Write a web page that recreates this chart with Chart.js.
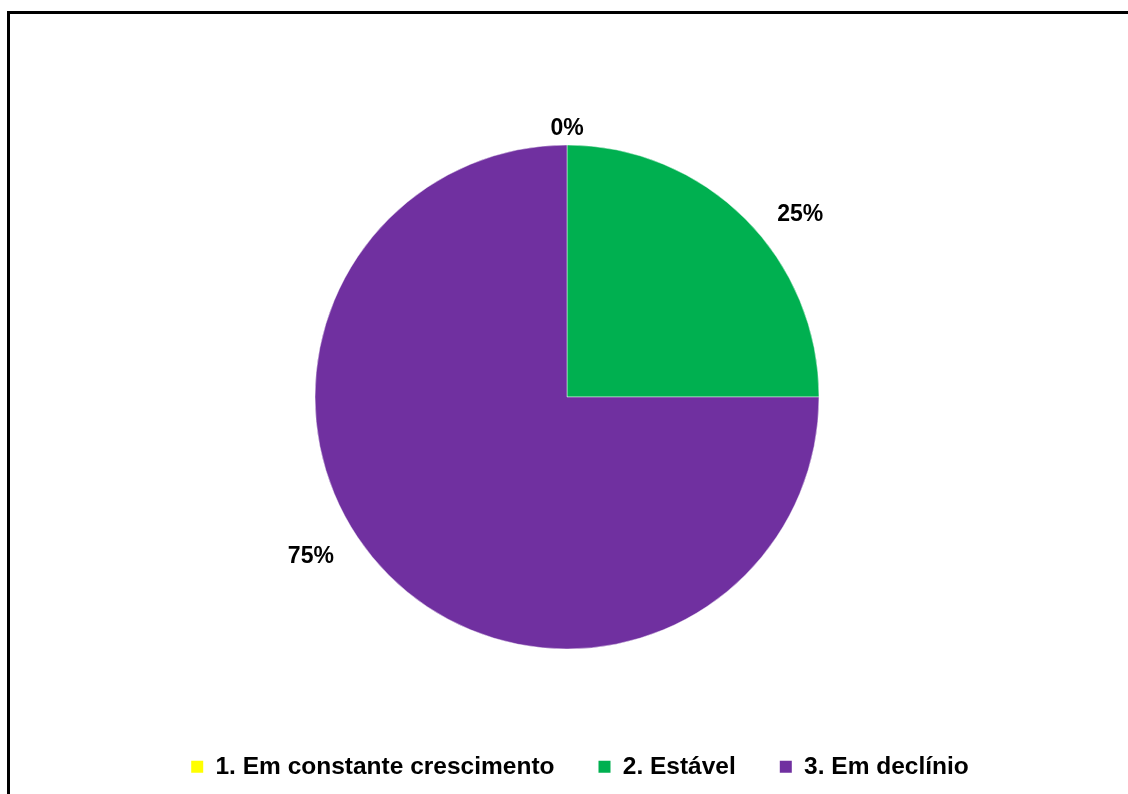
<!DOCTYPE html>
<html>
<head>
<meta charset="utf-8">
<script src="https://cdn.jsdelivr.net/npm/chart.js@4/dist/chart.umd.min.js"></script>
<style>
  html, body { margin: 0; padding: 0; background: #fff; }
  .wrap { position: relative; width: 1128px; height: 794px; overflow: hidden; }
  .frame {
    position: absolute; left: 7px; top: 11px;
    width: 1200px; height: 900px;
    border: 3px solid #000;
  }
  #chart { position: absolute; left: 0; top: 0; }
</style>
</head>
<body>
<div class="wrap">
  <div class="frame"></div>
  <canvas id="chart" width="1128" height="794"></canvas>
</div>
<script>
const CATEGORIES = ["1. Em constante crescimento", "2. Estável", "3. Em declínio"];
const SHARES = [0, 25, 75];
const COLORS = ["#FFFF00", "#00B050", "#7030A0"];

const FONT = '"Liberation Sans", Arial, Helvetica, sans-serif';

// percentage labels outside the pie, placed along each slice's mid angle
const outsideLabels = {
  id: "outsideLabels",
  afterDatasetsDraw(chart, args, opts) {
    const { ctx } = chart;
    const meta = chart.getDatasetMeta(0);
    ctx.save();
    ctx.font = `bold ${opts.size}px ${FONT}`;
    ctx.fillStyle = "#000";
    ctx.textAlign = "center";
    ctx.textBaseline = "middle";
    meta.data.forEach((arc, i) => {
      const nudge = opts.nudge[i];
      const mid = (arc.startAngle + arc.endAngle) / 2 + (nudge.angle * Math.PI) / 180;
      const r = arc.outerRadius + nudge.dist;
      const x = arc.x + Math.cos(mid) * r;
      const y = arc.y + Math.sin(mid) * r;
      ctx.fillText(`${SHARES[i]}%`, x, y);
    });
    ctx.restore();
  },
};

// slide the legend row sideways without moving the pie
const legendShift = {
  id: "legendShift",
  afterLayout(chart, args, opts) {
    chart.legend.left += opts.dx;
    chart.legend.right += opts.dx;
  },
};

new Chart(document.getElementById("chart"), {
  type: "pie",
  data: {
    labels: CATEGORIES,
    datasets: [
      {
        data: SHARES,
        backgroundColor: COLORS,
        borderColor: "rgba(255,255,255,0.45)",
        borderWidth: 1,
      },
    ],
  },
  plugins: [outsideLabels, legendShift],
  options: {
    responsive: false,
    animation: false,
    radius: 252,
    layout: {
      padding: { top: 83.5, bottom: 5, left: 6, right: 0 },
    },
    plugins: {
      tooltip: { enabled: false },
      legend: {
        position: "bottom",
        labels: {
          boxWidth: 12,
          boxHeight: 12,
          padding: 44,
          color: "#000",
          font: { family: FONT, size: 24.5, weight: "bold" },
          // solid swatches, without the slice outline
          generateLabels(chart) {
            return Chart.overrides.pie.plugins.legend.labels
              .generateLabels(chart)
              .map((item) => ({ ...item, lineWidth: 0, strokeStyle: item.fillStyle }));
          },
        },
      },
      legendShift: { dx: 13 },
      outsideLabels: {
        size: 23,
        nudge: [
          { angle: 0, dist: 16 },
          { angle: 7, dist: 44 },
          { angle: 13, dist: 50 },
        ],
      },
    },
  },
});
</script>
</body>
</html>
